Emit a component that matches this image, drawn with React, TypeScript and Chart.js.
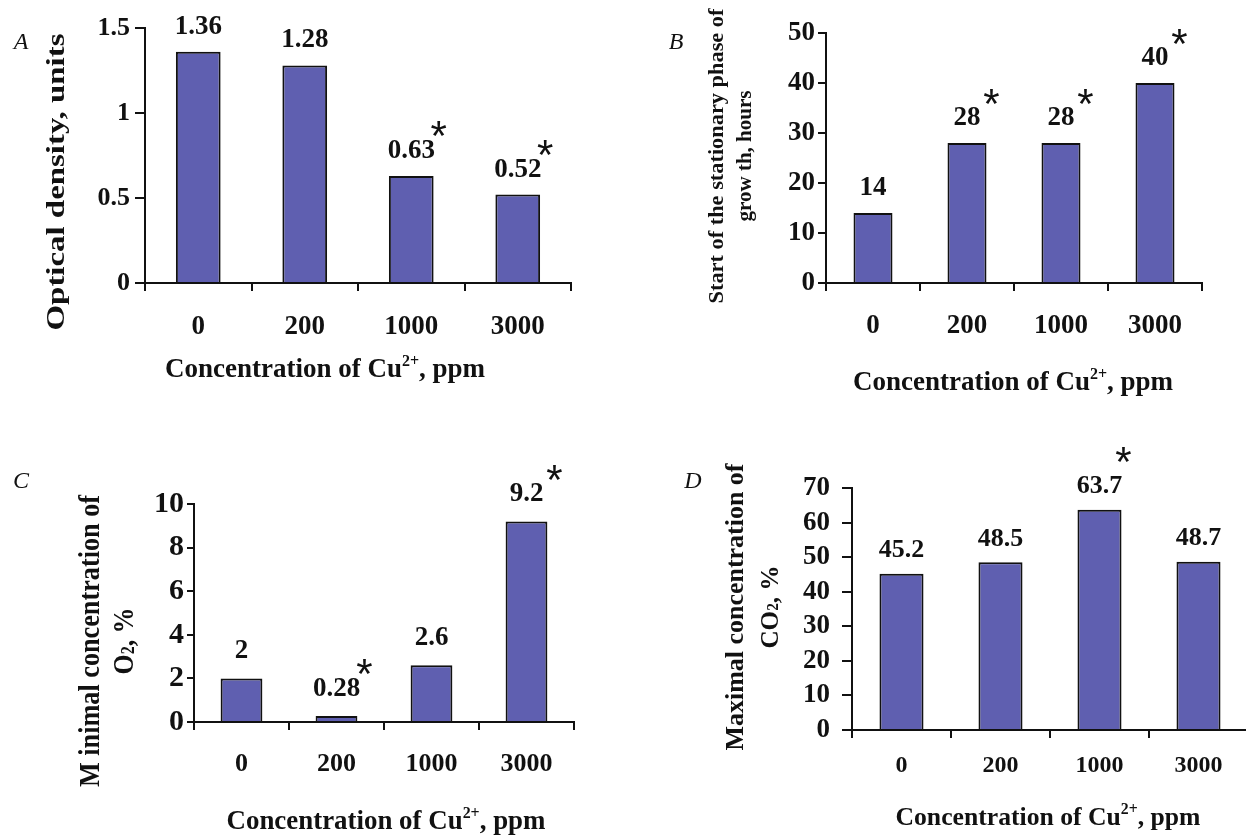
import React, { useEffect, useRef } from "react";
import { Chart, registerables } from "chart.js";

Chart.register(...registerables);

// ---------------- data ----------------
const categories = ["0", "200", "1000", "3000"];

const opticalDensity = [1.36, 1.28, 0.63, 0.52];
const stationaryPhaseStart = [14, 28, 28, 40];
const minimalO2 = [2, 0.28, 2.6, 9.2];
const maximalCO2 = [45.2, 48.5, 63.7, 48.7];

const significantA = [false, false, true, true];
const significantB = [false, true, true, true];
const significantC = [false, true, false, true];
const significantD = [false, false, true, false];

const yMaxA = 1.5;
const yStepA = 0.5;
const yMaxB = 50;
const yStepB = 10;
const yMaxC = 10;
const yStepC = 2;
const yMaxD = 70;
const yStepD = 10;

const xTitleText = "Concentration of Cu";
const xTitleSup = "2+";
const xTitleTail = ", ppm";

// ---------------- styles ----------------
const SERIF = "'Liberation Serif', 'Times New Roman', serif";
const SANS = "'Liberation Sans', Arial, sans-serif";
const BAR_FILL = "#5f5fb0";
const INK = "#111111";

type Run = { text: string; scale?: number; dy?: number };

type PanelCfg = {
  letter: string;
  values: number[];
  significant: boolean[];
  yMax: number;
  yStep: number;
  left: number;
  top: number;
  width: number;
  height: number;
  yScaleWidth: number;
  padTop: number;
  padRight: number;
  xScaleHeight: number;
  yTickSize: number;
  yTickLen: number;
  yTickPad: number;
  xTickSize: number;
  xTickPad: number;
  barPct: number;
  labelSize: number;
  labelGap: number;
  starDx: number;
  starDy: number;
  yTitleLines: Run[][];
  yTitleSize: number;
  yTitleX: number[];
  yTitleCy: number;
  yTitleLen: number[];
  xTitleCx: number;
  xTitleCy: number;
  xTitleLen: number;
  xTitleSize: number;
  letterX: number;
  letterY: number;
};

function drawRuns(
  ctx: CanvasRenderingContext2D,
  runs: Run[],
  size: number,
  cx: number,
  cy: number,
  rotate: boolean,
  targetLength: number | null,
  style: string
) {
  const widths: number[] = [];
  let total = 0;
  runs.forEach((r) => {
    ctx.font = `${style} ${Math.round(size * (r.scale ?? 1))}px ${SERIF}`;
    const w = ctx.measureText(r.text).width;
    widths.push(w);
    total += w;
  });
  const s = targetLength ? targetLength / total : 1;
  ctx.save();
  ctx.translate(cx, cy);
  if (rotate) ctx.rotate(-Math.PI / 2);
  ctx.scale(s, 1);
  ctx.fillStyle = INK;
  ctx.textAlign = "left";
  ctx.textBaseline = "middle";
  let x = -total / 2;
  runs.forEach((r, i) => {
    ctx.font = `${style} ${Math.round(size * (r.scale ?? 1))}px ${SERIF}`;
    ctx.fillText(r.text, x, (r.dy ?? 0) * size);
    x += widths[i];
  });
  ctx.restore();
}

const xTitleRuns: Run[] = [
  { text: xTitleText },
  { text: xTitleSup, scale: 0.6, dy: -0.32 },
  { text: xTitleTail },
];

const panels: PanelCfg[] = [
  {
    letter: "A",
    values: opticalDensity,
    significant: significantA,
    yMax: yMaxA,
    yStep: yStepA,
    left: 0,
    top: 0,
    width: 620,
    height: 420,
    yScaleWidth: 145,
    padTop: 28,
    padRight: 49,
    xScaleHeight: 137,
    yTickSize: 26,
    yTickLen: 10,
    yTickPad: 5,
    xTickSize: 27,
    xTickPad: 23,
    barPct: 0.42,
    labelSize: 27,
    labelGap: 25,
    starDx: 5,
    starDy: 25,
    yTitleLines: [[{ text: "Optical density, units" }]],
    yTitleSize: 25,
    yTitleX: [58],
    yTitleCy: 182,
    yTitleLen: [297],
    xTitleCx: 325,
    xTitleCy: 370,
    xTitleLen: 320,
    xTitleSize: 27,
    letterX: 21,
    letterY: 43,
  },
  {
    letter: "B",
    values: stationaryPhaseStart,
    significant: significantB,
    yMax: yMaxB,
    yStep: yStepB,
    left: 620,
    top: 0,
    width: 626,
    height: 420,
    yScaleWidth: 206,
    padTop: 33,
    padRight: 44,
    xScaleHeight: 137,
    yTickSize: 27,
    yTickLen: 8,
    yTickPad: 3,
    xTickSize: 27,
    xTickPad: 22,
    barPct: 0.415,
    labelSize: 27,
    labelGap: 25,
    starDx: 5,
    starDy: 24,
    yTitleLines: [
      [{ text: "Start of the stationary phase of" }],
      [{ text: "grow th, hours" }],
    ],
    yTitleSize: 21,
    yTitleX: [98, 126],
    yTitleCy: 156,
    yTitleLen: [295, 131],
    xTitleCx: 393,
    xTitleCy: 383,
    xTitleLen: 320,
    xTitleSize: 27,
    letterX: 56,
    letterY: 43,
  },
  {
    letter: "C",
    values: minimalO2,
    significant: significantC,
    yMax: yMaxC,
    yStep: yStepC,
    left: 0,
    top: 420,
    width: 620,
    height: 416,
    yScaleWidth: 194,
    padTop: 84,
    padRight: 46,
    xScaleHeight: 114,
    yTickSize: 30,
    yTickLen: 7,
    yTickPad: 3,
    xTickSize: 26,
    xTickPad: 21,
    barPct: 0.44,
    labelSize: 27,
    labelGap: 27,
    starDx: 7,
    starDy: 25,
    yTitleLines: [
      [{ text: "M inimal concentration of" }],
      [{ text: "O" }, { text: "2", scale: 0.62, dy: 0.12 }, { text: ", %" }],
    ],
    yTitleSize: 29,
    yTitleX: [92, 126],
    yTitleCy: 221,
    yTitleLen: [292, 67],
    xTitleCx: 386,
    xTitleCy: 402,
    xTitleLen: 319,
    xTitleSize: 27,
    letterX: 21,
    letterY: 62,
  },
  {
    letter: "D",
    values: maximalCO2,
    significant: significantD,
    yMax: yMaxD,
    yStep: yStepD,
    left: 620,
    top: 420,
    width: 632,
    height: 416,
    yScaleWidth: 232,
    padTop: 68,
    padRight: 4,
    xScaleHeight: 106,
    yTickSize: 27,
    yTickLen: 10,
    yTickPad: 12,
    xTickSize: 24,
    xTickPad: 16,
    barPct: 0.445,
    labelSize: 26,
    labelGap: 23,
    starDx: 2,
    starDy: 35,
    yTitleLines: [
      [{ text: "Maximal concentration of" }],
      [{ text: "CO" }, { text: "2", scale: 0.62, dy: 0.12 }, { text: ", %" }],
    ],
    yTitleSize: 26,
    yTitleX: [116, 151],
    yTitleCy: 187,
    yTitleLen: [287, 83],
    xTitleCx: 428,
    xTitleCy: 398,
    xTitleLen: 305,
    xTitleSize: 26,
    letterX: 73,
    letterY: 62,
  },
];

function Panel({ cfg }: { cfg: PanelCfg }) {
  const ref = useRef<HTMLCanvasElement | null>(null);

  useEffect(() => {
    const canvas = ref.current;
    if (!canvas) return;

    const annotate = {
      id: "annotate" + cfg.letter,
      afterDatasetsDraw(chart: any) {
        const ctx: CanvasRenderingContext2D = chart.ctx;
        const meta = chart.getDatasetMeta(0);
        ctx.save();
        meta.data.forEach((bar: any, i: number) => {
          const p = bar.getProps(["x", "y", "width"], true);
          const ly = p.y - cfg.labelGap;
          ctx.fillStyle = INK;
          ctx.textAlign = "center";
          ctx.textBaseline = "middle";
          ctx.font = `bold ${cfg.labelSize}px ${SERIF}`;
          ctx.fillText(String(cfg.values[i]), p.x, ly);
          if (cfg.significant[i]) {
            const starSize = 42;
            ctx.font = `${starSize}px ${SANS}`;
            ctx.textBaseline = "alphabetic";
            const cy = ly - cfg.starDy;
            ctx.fillText("*", p.x + p.width / 2 + cfg.starDx, cy + 0.575 * starSize);
          }
        });
        ctx.restore();
      },
      afterDraw(chart: any) {
        const ctx: CanvasRenderingContext2D = chart.ctx;
        cfg.yTitleLines.forEach((line, i) => {
          drawRuns(ctx, line, cfg.yTitleSize, cfg.yTitleX[i], cfg.yTitleCy, true, cfg.yTitleLen[i], "bold");
        });
        drawRuns(ctx, xTitleRuns, cfg.xTitleSize, cfg.xTitleCx, cfg.xTitleCy, false, cfg.xTitleLen, "bold");
        ctx.save();
        ctx.fillStyle = INK;
        ctx.font = `italic 24px ${SERIF}`;
        ctx.textAlign = "center";
        ctx.textBaseline = "middle";
        ctx.fillText(cfg.letter, cfg.letterX, cfg.letterY);
        ctx.restore();
      },
    };

    const chart = new Chart(canvas, {
      type: "bar",
      data: {
        labels: categories,
        datasets: [
          {
            data: cfg.values,
            backgroundColor: BAR_FILL,
            borderColor: INK,
            borderWidth: 2,
            barPercentage: cfg.barPct,
            categoryPercentage: 1,
          },
        ],
      },
      options: {
        responsive: false,
        animation: false,
        devicePixelRatio: 1,
        layout: {
          padding: { left: 0, right: cfg.padRight, top: cfg.padTop, bottom: 0 },
        },
        plugins: {
          legend: { display: false },
          tooltip: { enabled: false },
          title: { display: false },
        },
        scales: {
          x: {
            type: "category",
            offset: true,
            grid: {
              display: true,
              drawOnChartArea: false,
              drawTicks: true,
              tickLength: 8,
              color: INK,
              lineWidth: 2,
              offset: true,
            },
            border: { display: true, color: INK, width: 2 },
            ticks: {
              color: INK,
              font: { family: SERIF, size: cfg.xTickSize, weight: "bold", lineHeight: 1 },
              padding: cfg.xTickPad,
              maxRotation: 0,
              autoSkip: false,
            },
            afterFit: (s: any) => {
              s.height = cfg.xScaleHeight;
            },
          },
          y: {
            type: "linear",
            min: 0,
            max: cfg.yMax,
            grid: {
              display: true,
              drawOnChartArea: false,
              drawTicks: true,
              tickLength: cfg.yTickLen,
              color: INK,
              lineWidth: 2,
            },
            border: { display: true, color: INK, width: 2 },
            ticks: {
              stepSize: cfg.yStep,
              color: INK,
              font: { family: SERIF, size: cfg.yTickSize, weight: "bold", lineHeight: 1 },
              padding: cfg.yTickPad,
              callback: (v: any) => String(Number(v)),
            },
            afterFit: (s: any) => {
              s.width = cfg.yScaleWidth;
            },
          },
        },
      } as any,
      plugins: [annotate],
    });

    return () => chart.destroy();
  }, [cfg]);

  return (
    <canvas
      ref={ref}
      width={cfg.width}
      height={cfg.height}
      style={{
        position: "absolute",
        left: cfg.left,
        top: cfg.top,
        width: cfg.width,
        height: cfg.height,
      }}
    />
  );
}

export default function App() {
  return (
    <div
      style={{
        position: "fixed",
        left: 0,
        top: 0,
        width: 1246,
        height: 836,
        background: "#ffffff",
        overflow: "hidden",
      }}
    >
      {panels.map((p) => (
        <Panel key={p.letter} cfg={p} />
      ))}
    </div>
  );
}
